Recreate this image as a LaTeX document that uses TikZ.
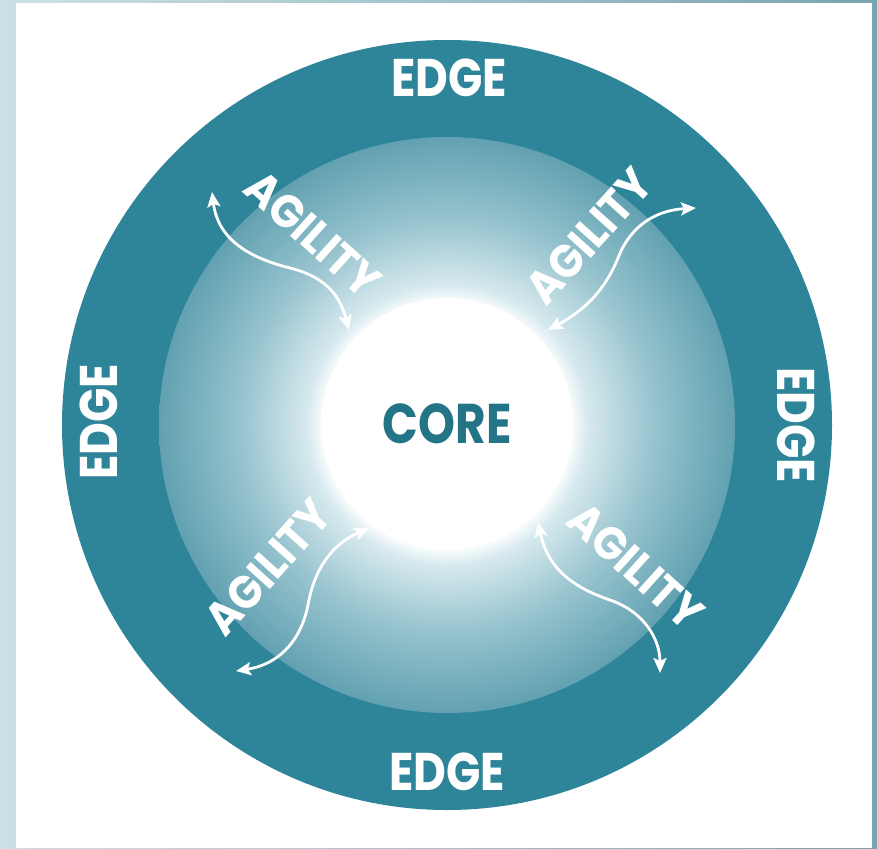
\documentclass[tikz,border=0pt]{standalone}
\usepackage{fontspec}
\usepackage{graphicx}
\newfontfamily\labelfont{Poppins}
\usetikzlibrary{arrows.meta}

\definecolor{ringteal}{RGB}{46,132,153}
\definecolor{coreteal}{RGB}{36,116,136}
\definecolor{discedge}{RGB}{98,161,177}
\definecolor{discmid}{RGB}{150,195,206}
\definecolor{discinner}{RGB}{214,233,238}
\definecolor{backlight}{RGB}{204,225,230}
\definecolor{backdark}{RGB}{122,164,175}

% soft glow of the middle disc, white at the centre, teal at the rim
\pgfdeclareradialshading{discglow}{\pgfpoint{0bp}{0bp}}{%
  color(0bp)=(white); color(10.6bp)=(white); color(12.2bp)=(discinner);
  color(18bp)=(discmid); color(25bp)=(discedge); color(50bp)=(discedge)}

\begin{document}
\begin{tikzpicture}[x=1pt,y=-1pt,
  edgelabel/.style={text=white, inner sep=0pt,
    font=\labelfont\bfseries\fontsize{53}{53}\selectfont},
  agilitylabel/.style={text=white, inner sep=0pt,
    font=\labelfont\bfseries\fontsize{46}{46}\selectfont},
  corelabel/.style={circle, fill=white, minimum size=252pt, inner sep=0pt,
    text=coreteal, font=\labelfont\bfseries\fontsize{56}{56}\selectfont},
  flowarrow/.style={draw=white, line width=2.8pt,
    {Stealth[length=15pt,width=13pt,inset=3pt]}-{Stealth[length=15pt,width=13pt,inset=3pt]}}]

\useasboundingbox (0,0) rectangle (877,848);

% page backdrop and white sheet
\shade[left color=backlight, right color=backdark] (0,0) rectangle (877,848);
\fill[white] (16,3) rectangle (872,848);

% rings
\fill[ringteal] (447,425) circle[radius=385];
\shade[shading=discglow] (447,425) circle[radius=288];
\node[corelabel] (core) at (447,424) {\scalebox{0.84}[1]{CORE}};

% edge labels
\node[edgelabel] (edgetop) at (449,78) {\scalebox{0.85}[1]{EDGE}};
\node[edgelabel] (edgebottom) at (447,772) {\scalebox{0.85}[1]{EDGE}};
\node[edgelabel, rotate=90] (edgeleft) at (99,422) {\scalebox{0.85}[1]{EDGE}};
\node[edgelabel, rotate=-90] (edgeright) at (796,425) {\scalebox{0.85}[1]{EDGE}};

% agility labels
\node[agilitylabel, rotate=-42] (agtl) at (313,234) {\scalebox{0.93}[1]{AGILITY}};
\node[agilitylabel, rotate=48] (agtr) at (589,236) {\scalebox{0.93}[1]{AGILITY}};
\node[agilitylabel, rotate=48] (agbl) at (268,567) {\scalebox{0.93}[1]{AGILITY}};
\node[agilitylabel, rotate=-42] (agbr) at (636,566) {\scalebox{0.93}[1]{AGILITY}};

% arrow end points
\coordinate (tlout) at (212,192);
\coordinate (tlin) at (349,330);
\coordinate (trin) at (548,330);
\coordinate (trout) at (696,208);
\coordinate (blin) at (369,528);
\coordinate (blout) at (236,671);
\coordinate (brin) at (538,522);
\coordinate (brout) at (660,673);

% wavy two-way arrows between core and edge
\draw[flowarrow] (tlout) .. controls (218,240) and (250,258) .. (290,268)
  .. controls (330,278) and (341,300) .. (tlin);
\draw[flowarrow] (trin) .. controls (585,310) and (605,290) .. (618,258)
  .. controls (632,222) and (660,210) .. (trout);
\draw[flowarrow] (blin) .. controls (335,543) and (315,565) .. (308,605)
  .. controls (300,645) and (275,665) .. (blout);
\draw[flowarrow] (brin) .. controls (548,570) and (575,588) .. (610,600)
  .. controls (645,612) and (660,640) .. (brout);

\end{tikzpicture}
\end{document}
